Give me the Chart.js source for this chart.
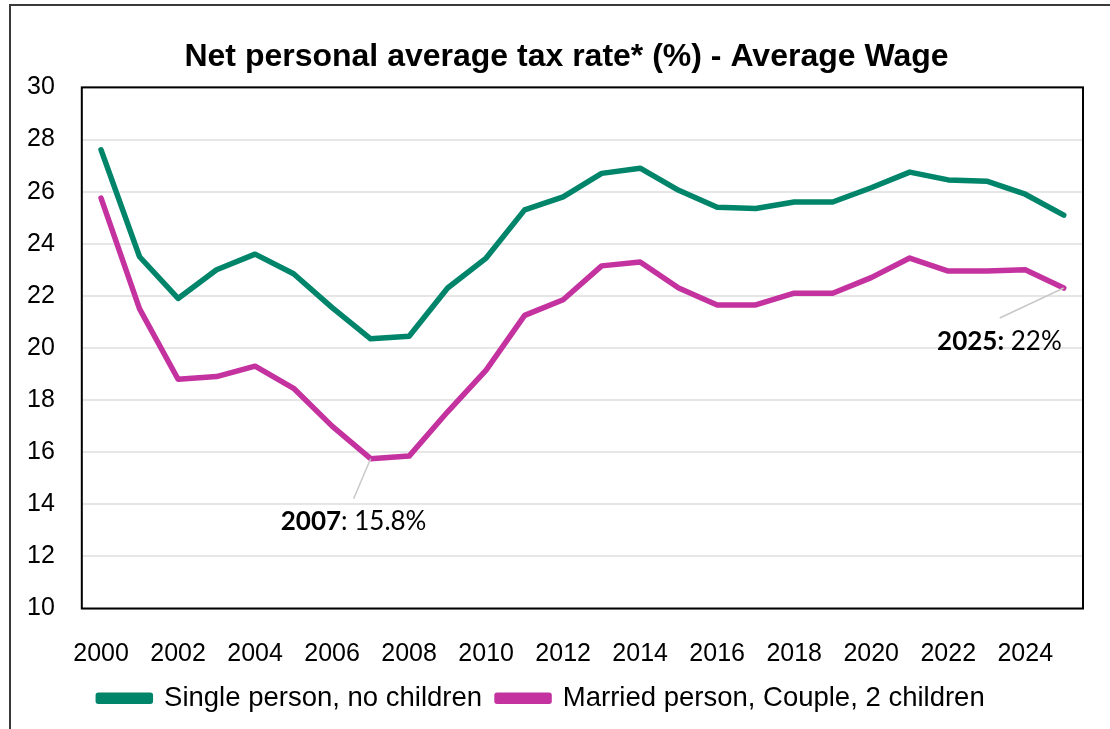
<!DOCTYPE html>
<html>
<head>
<meta charset="utf-8">
<script src="https://cdn.jsdelivr.net/npm/chart.js@4"></script>
<style>
  html, body { margin: 0; padding: 0; background: #fff; }
  #wrap { width: 1110px; height: 729px; }
</style>
</head>
<body>
<div id="wrap"><canvas id="taxChart" width="1110" height="729"></canvas></div>
<script>
// years on the x axis
const years = [2000, 2001, 2002, 2003, 2004, 2005, 2006, 2007, 2008, 2009, 2010, 2011, 2012,
               2013, 2014, 2015, 2016, 2017, 2018, 2019, 2020, 2021, 2022, 2023, 2024, 2025];

// Single person, no children (%)
const singleRate = [27.6, 23.5, 21.9, 23.0, 23.6, 22.85, 21.55, 20.35, 20.45, 22.3, 23.45, 25.3, 25.8,
                    26.7, 26.9, 26.05, 25.4, 25.35, 25.6, 25.6, 26.15, 26.75, 26.45, 26.4, 25.9, 25.1];

// Married person, Couple, 2 children (%)
const marriedRate = [25.75, 21.5, 18.8, 18.9, 19.3, 18.45, 17.0, 15.75, 15.85, 17.55, 19.15, 21.25, 21.85,
                     23.15, 23.3, 22.3, 21.65, 21.65, 22.1, 22.1, 22.7, 23.45, 22.95, 22.95, 23.0, 22.3];

const seriesNames = ['Single person, no children', 'Married person, Couple, 2 children'];
const yTicks = [10, 12, 14, 16, 18, 20, 22, 24, 26, 28, 30];

// callouts on the married line
const callouts = [
    { idx: 7, bold: '2007', rest: ': 15.8%' },
    { idx: 25, bold: '2025:', rest: ' 22%' }
];

const green = 'rgb(0, 133, 106)';
const magenta = 'rgb(196, 50, 160)';

// outer frame + plot box, title nudged right like the original
const framePlugin = {
    id: 'frame',
    afterLayout(chart) {
        if (chart.titleBlock) {
            chart.titleBlock.left += 25;
            chart.titleBlock.right += 25;
        }
    },
    beforeDraw(chart) {
        const c = chart.ctx;
        c.save();
        c.strokeStyle = '#3a3a3a';
        c.lineWidth = 2;
        c.beginPath();
        c.moveTo(10, 729);
        c.lineTo(10, 5);
        c.lineTo(1110, 5);
        c.stroke();
        c.restore();
    },
    beforeDatasetsDraw(chart) {
        const a = chart.chartArea;
        const c = chart.ctx;
        c.save();
        c.strokeStyle = '#000';
        c.lineWidth = 2;
        c.strokeRect(a.left, a.top, a.right - a.left, a.bottom - a.top);
        c.restore();
    }
};

function drawLabel(c, bold, rest, x, y, align) {
    c.font = 'bold 26px Lato';
    const wb = c.measureText(bold).width;
    c.font = '26px Lato';
    const wr = c.measureText(rest).width;
    let tx = x;
    if (align === 'center') tx = x - (wb + wr) / 2;
    if (align === 'right') tx = x - (wb + wr);
    c.fillStyle = '#000';
    c.textAlign = 'left';
    c.textBaseline = 'middle';
    c.font = 'bold 26px Lato';
    c.fillText(bold, tx, y);
    c.font = '26px Lato';
    c.fillText(rest, tx + wb, y);
}

// leader lines + labels for 2007 and 2025
const calloutPlugin = {
    id: 'callouts',
    afterDatasetsDraw(chart) {
        const c = chart.ctx;
        const xs = chart.scales.x, ys = chart.scales.y;
        c.save();
        c.strokeStyle = '#c8c8c8';
        c.lineWidth = 1.5;

        let p = callouts[0];
        let px = xs.getPixelForValue(p.idx), py = ys.getPixelForValue(marriedRate[p.idx]);
        c.beginPath();
        c.moveTo(px, py);
        c.lineTo(px - 17, py + 40);
        c.stroke();
        drawLabel(c, p.bold, p.rest, px - 17, py + 63, 'center');

        p = callouts[1];
        px = xs.getPixelForValue(p.idx); py = ys.getPixelForValue(marriedRate[p.idx]);
        c.beginPath();
        c.moveTo(px, py);
        c.lineTo(px - 64, py + 30);
        c.stroke();
        drawLabel(c, p.bold, p.rest, px - 2, py + 54, 'right');
        c.restore();
    }
};

new Chart(document.getElementById('taxChart'), {
    type: 'line',
    data: {
        labels: years,
        datasets: [{
            label: seriesNames[0],
            data: singleRate,
            borderColor: green,
            backgroundColor: green,
            borderWidth: 5.5,
            pointRadius: 0,
            borderJoinStyle: 'round',
            borderCapStyle: 'round',
            tension: 0
        }, {
            label: seriesNames[1],
            data: marriedRate,
            borderColor: magenta,
            backgroundColor: magenta,
            borderWidth: 5.5,
            pointRadius: 0,
            borderJoinStyle: 'round',
            borderCapStyle: 'round',
            tension: 0
        }]
    },
    options: {
        responsive: false,
        animation: false,
        layout: { padding: { left: 0, right: 27, top: 0, bottom: 7 } },
        plugins: {
            title: {
                display: true,
                text: 'Net personal average tax rate* (%) - Average Wage',
                color: '#000',
                font: { family: 'Liberation Sans', size: 32, weight: 'bold' },
                padding: { top: 38, bottom: 11 }
            },
            legend: {
                position: 'bottom',
                labels: {
                    color: '#000',
                    font: { family: 'Liberation Sans', size: 27.5 },
                    boxWidth: 52,
                    boxHeight: 6,
                    padding: 15
                }
            },
            tooltip: { enabled: false }
        },
        scales: {
            x: {
                offset: true,
                grid: { display: false, drawTicks: false },
                border: { display: false },
                afterFit: function (s) { s.height = 61; },
                ticks: {
                    autoSkip: false,
                    maxRotation: 0,
                    padding: 31,
                    color: '#000',
                    font: { family: 'Liberation Sans', size: 25 },
                    callback: function (v, i) { return i % 2 === 0 ? String(years[i]) : ''; }
                }
            },
            y: {
                min: yTicks[0],
                max: yTicks[yTicks.length - 1],
                afterBuildTicks: function (s) { s.ticks = yTicks.map(v => ({ value: v })); },
                grid: { color: '#e6e6e6', lineWidth: 2, drawTicks: false },
                border: { display: false },
                ticks: {
                    padding: 27,
                    color: '#000',
                    font: { family: 'Liberation Sans', size: 25 }
                }
            }
        }
    },
    plugins: [framePlugin, calloutPlugin]
});
</script>
</body>
</html>
